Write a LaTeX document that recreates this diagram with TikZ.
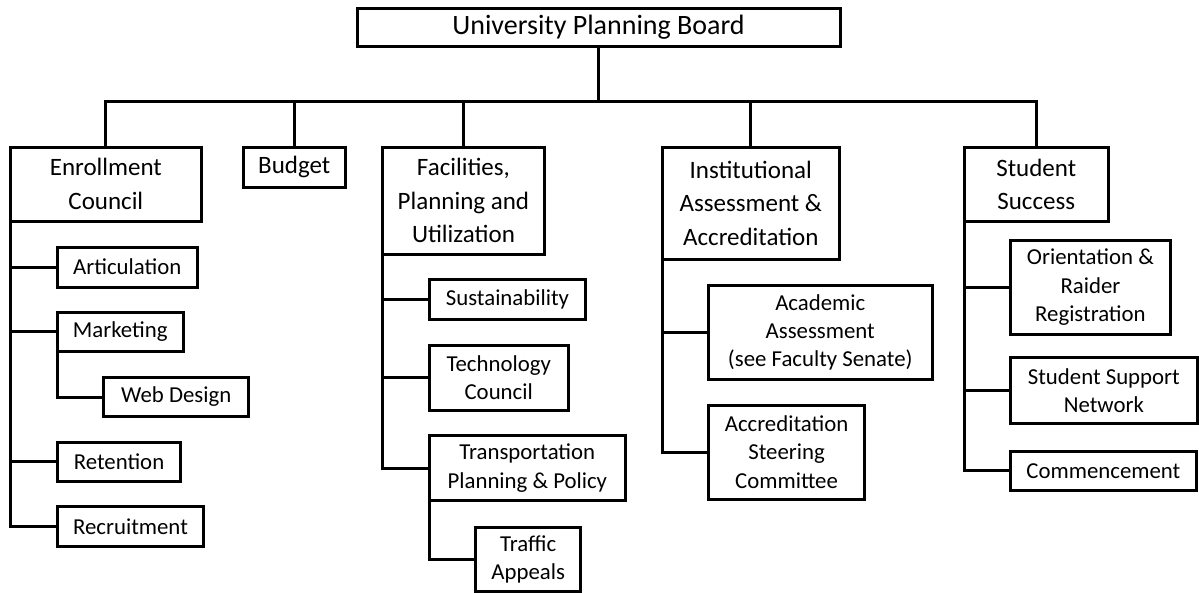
\documentclass[tikz,border=0pt]{standalone}
\usepackage{fontspec}
\setmainfont{Carlito}
\usepackage{tikz}

\tikzset{
  box/.style={draw, line width=3pt, anchor=north west, inner sep=0pt, outer sep=0pt, align=center},
  topbox/.style={box, font=\fontsize{28}{34}\selectfont},
  headbox/.style={box, font=\fontsize{25}{33.5}\selectfont},
  subbox/.style={box, font=\fontsize{22.8}{28.3}\selectfont},
  link/.style={line width=3pt}
}

\begin{document}
\begin{tikzpicture}
\useasboundingbox (0pt, 0pt) rectangle (1199pt, -592pt);
\node (upb) [topbox, minimum width=483pt, minimum height=38.4pt] at (357pt, -8.3pt) {University Planning Board};
\node (enr) [headbox, minimum width=190.3pt, minimum height=74pt] at (10.7pt, -147pt) {Enrollment\\Council};
\node (bud) [headbox, minimum width=102.6pt, minimum height=40pt] at (243pt, -147pt) {Budget};
\node (fpu) [headbox, minimum width=161.5pt, minimum height=107pt] at (382.7pt, -147pt) {Facilities,\\Planning and\\Utilization};
\node (iaa) [headbox, minimum width=177.6pt, minimum height=112pt] at (662pt, -147pt) {Institutional\\Assessment \&\\Accreditation};
\node (sts) [headbox, minimum width=143.9pt, minimum height=74.7pt] at (964.3pt, -147pt) {Student\\Success};
\node (art) [subbox, minimum width=139.6pt, minimum height=40pt] at (57.4pt, -247pt) {Articulation};
\node (mkt) [subbox, minimum width=125.6pt, minimum height=38.7pt] at (57.4pt, -312.3pt) {Marketing};
\node (web) [subbox, minimum width=145.1pt, minimum height=39.4pt] at (103.7pt, -377.3pt) {Web Design};
\node (ret) [subbox, minimum width=123.2pt, minimum height=39.3pt] at (57.4pt, -442pt) {Retention};
\node (rec) [subbox, minimum width=146.2pt, minimum height=39.3pt] at (57.4pt, -506.7pt) {Recruitment};
\node (sus) [subbox, minimum width=156.1pt, minimum height=39.7pt] at (429.4pt, -279.3pt) {Sustainability};
\node (tec) [subbox, minimum width=138.6pt, minimum height=65pt] at (429.4pt, -345pt) {Technology\\Council};
\node (tpp) [subbox, minimum width=195.9pt, minimum height=65pt] at (429.4pt, -435.7pt) {Transportation\\Planning \& Policy};
\node (trf) [subbox, minimum width=104.9pt, minimum height=64.2pt] at (475.7pt, -527.3pt) {Traffic\\Appeals};
\node (aca) [subbox, minimum width=223.9pt, minimum height=93.3pt] at (708.3pt, -285.7pt) {Academic\\Assessment\\(see Faculty Senate)};
\node (acs) [subbox, minimum width=156.5pt, minimum height=94pt] at (708.3pt, -405pt) {Accreditation\\Steering\\Committee};
\node (ori) [subbox, minimum width=159.6pt, minimum height=93.3pt] at (1010.6pt, -240.7pt) {Orientation \&\\Raider\\Registration};
\node (ssn) [subbox, minimum width=186.5pt, minimum height=65.6pt] at (1010.6pt, -357.7pt) {Student Support\\Network};
\node (com) [subbox, minimum width=185.6pt, minimum height=39.7pt] at (1010.6pt, -451pt) {Commencement};
\coordinate (bus) at (598.5pt, -101.7pt);
\draw [link] (upb.south) -- (bus);
\foreach \n in {enr, bud, fpu, iaa, sts}
  \draw [link] (bus) -| (\n.north);
\foreach \n in {art, mkt, ret, rec}
  \draw [link] (enr.south west) |- (\n.west);
\draw [link] (mkt.south west) |- (web.west);
\foreach \n in {sus, tec, tpp}
  \draw [link] (fpu.south west) |- (\n.west);
\draw [link] (tpp.south west) |- (trf.west);
\foreach \n in {aca, acs}
  \draw [link] (iaa.south west) |- (\n.west);
\foreach \n in {ori, ssn, com}
  \draw [link] (sts.south west) |- (\n.west);
\end{tikzpicture}
\end{document}
